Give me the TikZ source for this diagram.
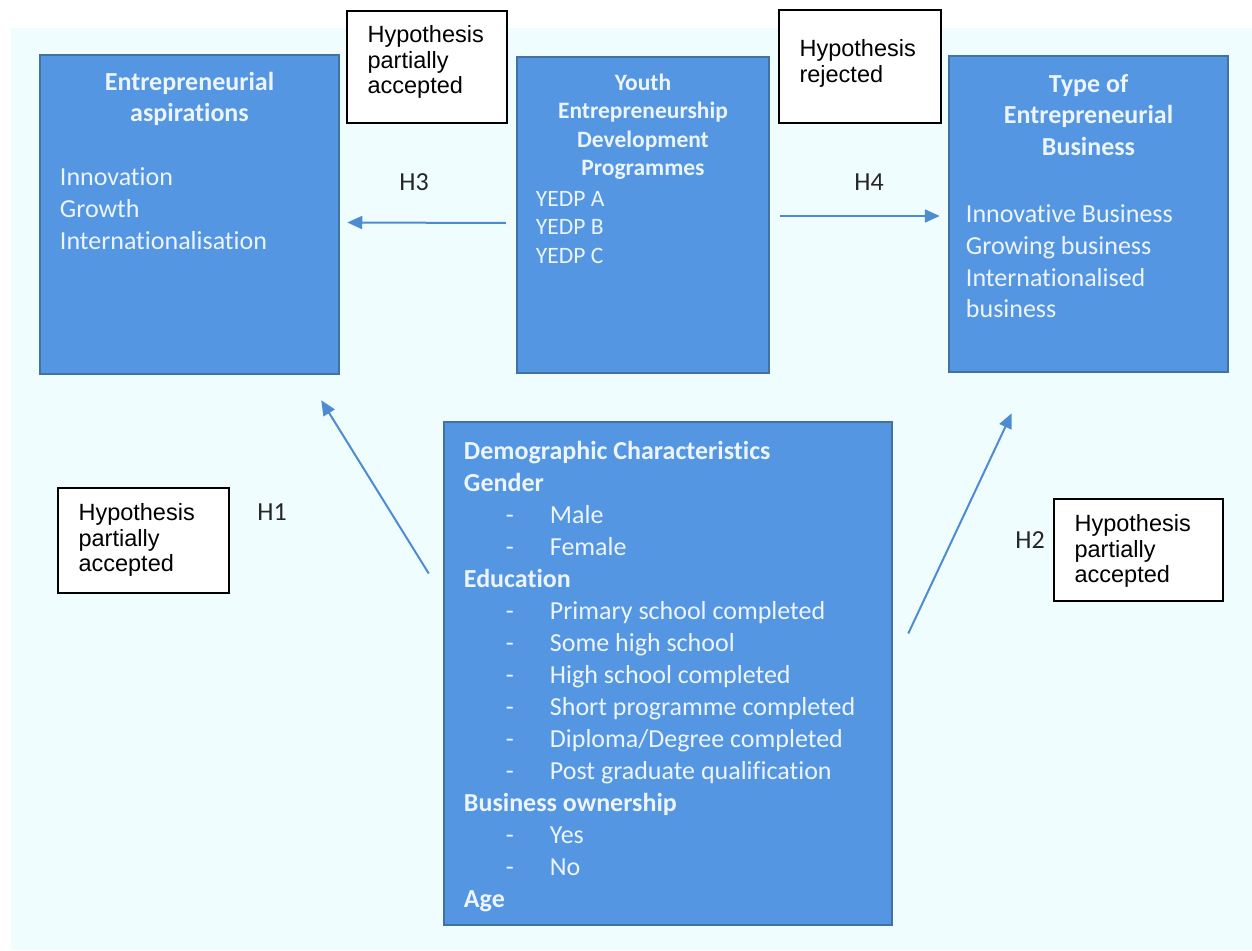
\documentclass[tikz,border=0pt]{standalone}
\usepackage{fontspec}
\setmainfont{Carlito}[Ligatures=NoCommon]
\newfontfamily\arialfont{Liberation Sans}
\usetikzlibrary{positioning,arrows.meta}

\definecolor{boxblue}{RGB}{84,150,226}
\definecolor{boxline}{RGB}{66,114,160}
\definecolor{boxtext}{RGB}{236,244,252}
\definecolor{arrowblue}{RGB}{78,140,210}
\definecolor{panel}{RGB}{240,253,255}

\newcommand{\dashitem}[1]{\hspace*{42pt}\makebox[44pt][l]{-}#1}

\begin{document}
\begin{tikzpicture}[
    x=1pt, y=-1pt,
    bluebox/.style={rectangle, draw=boxline, line width=2.5pt, fill=boxblue},
    boxtitle/.style={inner sep=0pt, anchor=north, align=center, text=boxtext, font=\bfseries\fontsize{26pt}{31.7pt}\selectfont},
    boxitems/.style={inner sep=0pt, align=left, text=boxtext, font=\fontsize{26pt}{31.7pt}\selectfont},
    hypbox/.style={rectangle, draw, line width=1.3pt, fill=white},
    hyptext/.style={inner sep=0pt, align=left, font=\arialfont\fontsize{23.5pt}{25.5pt}\selectfont},
    hlabel/.style={inner sep=0pt, text=black!85, font=\fontsize{26pt}{30pt}\selectfont},
    arrow/.style={-{Triangle[length=15pt,width=13pt]}, line width=2pt, draw=arrowblue}
]

% background
\fill[white] (0,0) rectangle (1252,950);
\fill[panel] (11,28) rectangle (1252,950);
\useasboundingbox (0,0) rectangle (1252,950);

% Entrepreneurial aspirations
\node[bluebox, minimum width=299pt, minimum height=319pt] (aspir) at (189.5,214.5) {};
\node[boxtitle, below=18pt of aspir.north] (aspirtitle) {Entrepreneurial\\aspirations};
\node[boxitems, below right=114pt and 21pt of aspir.north west] (aspiritems) {Innovation\\Growth\\Internationalisation};

% Youth Entrepreneurship Development Programmes
\node[bluebox, minimum width=252pt, minimum height=316pt] (ydp) at (643,215) {};
\node[boxtitle, below=18pt of ydp.north, font=\bfseries\fontsize{23.5pt}{28.5pt}\selectfont] (ydptitle) {Youth\\Entrepreneurship\\Development\\Programmes};
\node[boxitems, below right=135pt and 20pt of ydp.north west, font=\fontsize{23.5pt}{28.5pt}\selectfont] (ydpitems) {YEDP A\\YEDP B\\YEDP C};

% Type of Entrepreneurial Business
\node[bluebox, minimum width=279pt, minimum height=316pt] (tob) at (1088.5,214) {};
\node[boxtitle, below=19pt of tob.north] (tobtitle) {Type of\\Entrepreneurial\\Business};
\node[boxitems, below right=150pt and 18pt of tob.north west] (tobitems) {Innovative Business\\Growing business\\Internationalised\\business};

% Demographic Characteristics
\node[bluebox, minimum width=448pt, minimum height=503pt] (demo) at (668,673.5) {};
\node[boxitems, below right=20pt and 21pt of demo.north west, font=\fontsize{26pt}{32pt}\selectfont] (demoitems) {%
  \textbf{Demographic Characteristics}\\
  \textbf{Gender}\\
  \dashitem{Male}\\
  \dashitem{Female}\\
  \textbf{Education}\\
  \dashitem{Primary school completed}\\
  \dashitem{Some high school}\\
  \dashitem{High school completed}\\
  \dashitem{Short programme completed}\\
  \dashitem{Diploma/Degree completed}\\
  \dashitem{Post graduate qualification}\\
  \textbf{Business ownership}\\
  \dashitem{Yes}\\
  \dashitem{No}\\
  \textbf{Age}};

% Hypothesis results
\node[hypbox, minimum width=160pt, minimum height=112pt] (hyp3) at (427,67) {};
\node[hyptext, below right=15pt and 21pt of hyp3.north west] (hyp3text) {Hypothesis\\partially\\accepted};

\node[hypbox, minimum width=162pt, minimum height=113pt] (hyp4) at (860,66.5) {};
\node[hyptext, below right=30pt and 21pt of hyp4.north west] (hyp4text) {Hypothesis\\rejected};

\node[hypbox, minimum width=171pt, minimum height=105pt] (hyp1) at (143.5,540.5) {};
\node[hyptext, below right=16pt and 21pt of hyp1.north west] (hyp1text) {Hypothesis\\partially\\accepted};

\node[hypbox, minimum width=169pt, minimum height=102pt] (hyp2) at (1138.5,550) {};
\node[hyptext, below right=16pt and 21pt of hyp2.north west] (hyp2text) {Hypothesis\\partially\\accepted};

% labels
\node[hlabel] (h3) at (414,182) {H3};
\node[hlabel] (h4) at (869,182) {H4};
\node[hlabel] (h1) at (272,512) {H1};
\node[hlabel] (h2) at (1030,540) {H2};

% arrows
\draw[arrow] ([xshift=-10pt,yshift=-8pt]ydp.west) -- ([xshift=7pt,yshift=-8pt]aspir.east);
\draw[arrow] ([xshift=10pt,yshift=-1pt]ydp.east) -- ([xshift=-8pt,yshift=-2pt]tob.west);
\draw[arrow] ([xshift=-14pt,yshift=100pt]demo.west) -- ([xshift=-19pt,yshift=-25pt]aspir.south east);
\draw[arrow] ([xshift=15pt,yshift=40pt]demo.east) -- ([xshift=64pt,yshift=-40pt]tob.south west);

\end{tikzpicture}
\end{document}
